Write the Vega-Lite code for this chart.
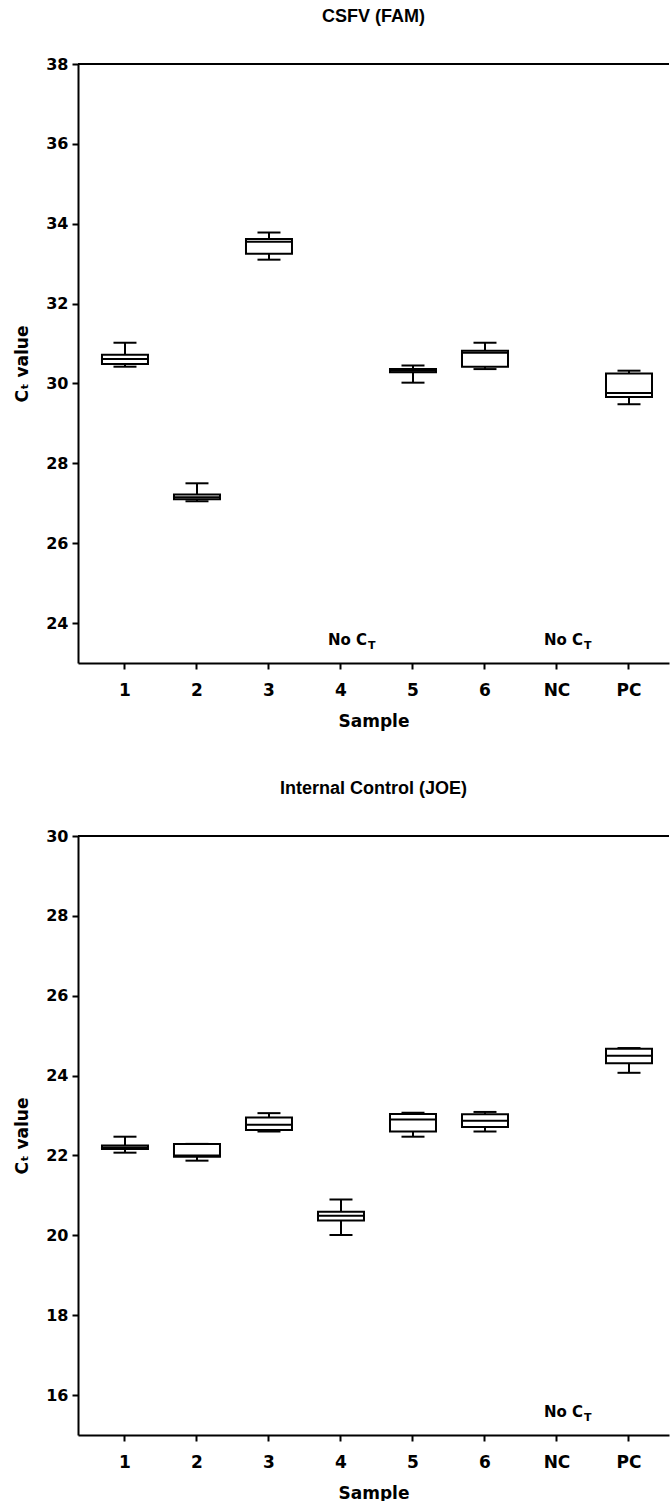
{
  "$schema": "https://vega.github.io/schema/vega-lite/v6.json",
  "padding": {"left": 13, "top": 8, "right": 0, "bottom": 0},
  "background": "white",
  "spacing": 51,
  "datasets": {
    "fam": [
      {"Sample": "1", "min": 30.42, "q1": 30.49, "median": 30.61, "q3": 30.72, "max": 31.02},
      {"Sample": "2", "min": 27.05, "q1": 27.1, "median": 27.15, "q3": 27.22, "max": 27.5},
      {"Sample": "3", "min": 33.1, "q1": 33.25, "median": 33.55, "q3": 33.62, "max": 33.78},
      {"Sample": "5", "min": 30.02, "q1": 30.28, "median": 30.32, "q3": 30.36, "max": 30.45},
      {"Sample": "6", "min": 30.36, "q1": 30.42, "median": 30.77, "q3": 30.82, "max": 31.02},
      {"Sample": "PC", "min": 29.48, "q1": 29.66, "median": 29.76, "q3": 30.25, "max": 30.32}
    ],
    "joe": [
      {"Sample": "1", "min": 22.07, "q1": 22.16, "median": 22.2, "q3": 22.25, "max": 22.47},
      {"Sample": "2", "min": 21.87, "q1": 21.97, "median": 22.0, "q3": 22.29, "max": 22.29},
      {"Sample": "3", "min": 22.6, "q1": 22.64, "median": 22.77, "q3": 22.95, "max": 23.06},
      {"Sample": "4", "min": 20.01, "q1": 20.37, "median": 20.49, "q3": 20.59, "max": 20.9},
      {"Sample": "5", "min": 22.47, "q1": 22.6, "median": 22.9, "q3": 23.04, "max": 23.07},
      {"Sample": "6", "min": 22.6, "q1": 22.71, "median": 22.87, "q3": 23.03, "max": 23.09},
      {"Sample": "PC", "min": 24.07, "q1": 24.31, "median": 24.5, "q3": 24.67, "max": 24.69}
    ],
    "famNotes": [{"Sample": "4", "note": "No C", "sub": "T"}, {"Sample": "NC", "note": "No C", "sub": "T"}],
    "joeNotes": [{"Sample": "NC", "note": "No C", "sub": "T"}]
  },
  "config": {
    "view": {"stroke": null},
    "axis": {
      "domainColor": "black", "domainWidth": 2, "tickColor": "black", "tickWidth": 2, "tickSize": 6,
      "labelColor": "black", "labelFont": "DejaVu Sans", "labelFontWeight": "bold", "labelFontSize": 16,
      "titleColor": "black", "titleFont": "DejaVu Sans", "titleFontWeight": "bold", "titleFontSize": 17,
      "grid": false
    },
    "title": {"font": "Liberation Sans", "fontWeight": "bold", "fontSize": 18, "color": "black", "anchor": "middle", "offset": 30}
  },
  "vconcat": [
    {
      "width": 591, "height": 599,
      "title": "CSFV (FAM)",
      "data": {"name": "fam"},
      "layer": [
        {
          "mark": {"type": "rule", "color": "black", "strokeWidth": 2},
          "encoding": {
            "x": {"field": "Sample", "type": "nominal", "title": "Sample",
                  "scale": {"domain": ["1", "2", "3", "4", "5", "6", "NC", "PC"], "paddingInner": 0, "paddingOuter": 0.104, "align": 0.733},
                  "axis": {"labelAngle": 0, "labelPadding": 13, "titlePadding": 15, "labelFontSize": 17}},
            "y": {"field": "min", "type": "quantitative", "title": "Cₜ value",
                  "scale": {"domain": [23, 38], "nice": false, "zero": false},
                  "axis": {"values": [24, 26, 28, 30, 32, 34, 36, 38], "labelPadding": 4, "titlePadding": 14}},
            "y2": {"field": "max"}
          }
        },
        {
          "mark": {"type": "bar", "fill": "white", "stroke": "black", "strokeWidth": 2, "size": 46},
          "encoding": {
            "x": {"field": "Sample", "type": "nominal", "title": "Sample"},
            "y": {"field": "q1", "type": "quantitative", "title": "Cₜ value"},
            "y2": {"field": "q3"}
          }
        },
        {
          "mark": {"type": "tick", "color": "black", "size": 46, "thickness": 2, "opacity": 1},
          "encoding": {
            "x": {"field": "Sample", "type": "nominal", "title": "Sample"},
            "y": {"field": "median", "type": "quantitative", "title": "Cₜ value"}
          }
        },
        {
          "mark": {"type": "tick", "color": "black", "size": 23, "thickness": 2, "opacity": 1},
          "encoding": {
            "x": {"field": "Sample", "type": "nominal", "title": "Sample"},
            "y": {"field": "min", "type": "quantitative", "title": "Cₜ value"}
          }
        },
        {
          "mark": {"type": "tick", "color": "black", "size": 23, "thickness": 2, "opacity": 1},
          "encoding": {
            "x": {"field": "Sample", "type": "nominal", "title": "Sample"},
            "y": {"field": "max", "type": "quantitative", "title": "Cₜ value"}
          }
        },
        {
          "mark": {"type": "rule", "color": "black", "strokeWidth": 1.5},
          "encoding": {"y": {"datum": 38}}
        },
        {
          "data": {"name": "famNotes"},
          "mark": {"type": "text", "align": "right", "baseline": "alphabetic", "dx": 26, "font": "DejaVu Sans", "fontWeight": "bold", "fontSize": 15, "color": "black"},
          "encoding": {
            "x": {"field": "Sample", "type": "nominal", "title": "Sample"},
            "y": {"datum": 23.44},
            "text": {"field": "note"}
          }
        },
        {
          "data": {"name": "famNotes"},
          "mark": {"type": "text", "align": "left", "baseline": "alphabetic", "dx": 27, "dy": 4, "font": "DejaVu Sans", "fontWeight": "bold", "fontSize": 11, "color": "black"},
          "encoding": {
            "x": {"field": "Sample", "type": "nominal", "title": "Sample"},
            "y": {"datum": 23.44},
            "text": {"field": "sub"}
          }
        }
      ]
    },
    {
      "width": 591, "height": 599,
      "title": "Internal Control (JOE)",
      "data": {"name": "joe"},
      "layer": [
        {
          "mark": {"type": "rule", "color": "black", "strokeWidth": 2},
          "encoding": {
            "x": {"field": "Sample", "type": "nominal", "title": "Sample",
                  "scale": {"domain": ["1", "2", "3", "4", "5", "6", "NC", "PC"], "paddingInner": 0, "paddingOuter": 0.104, "align": 0.733},
                  "axis": {"labelAngle": 0, "labelPadding": 13, "titlePadding": 15, "labelFontSize": 17}},
            "y": {"field": "min", "type": "quantitative", "title": "Cₜ value",
                  "scale": {"domain": [15, 30], "nice": false, "zero": false},
                  "axis": {"values": [16, 18, 20, 22, 24, 26, 28, 30], "labelPadding": 4, "titlePadding": 14}},
            "y2": {"field": "max"}
          }
        },
        {
          "mark": {"type": "bar", "fill": "white", "stroke": "black", "strokeWidth": 2, "size": 46},
          "encoding": {
            "x": {"field": "Sample", "type": "nominal", "title": "Sample"},
            "y": {"field": "q1", "type": "quantitative", "title": "Cₜ value"},
            "y2": {"field": "q3"}
          }
        },
        {
          "mark": {"type": "tick", "color": "black", "size": 46, "thickness": 2, "opacity": 1},
          "encoding": {
            "x": {"field": "Sample", "type": "nominal", "title": "Sample"},
            "y": {"field": "median", "type": "quantitative", "title": "Cₜ value"}
          }
        },
        {
          "mark": {"type": "tick", "color": "black", "size": 23, "thickness": 2, "opacity": 1},
          "encoding": {
            "x": {"field": "Sample", "type": "nominal", "title": "Sample"},
            "y": {"field": "min", "type": "quantitative", "title": "Cₜ value"}
          }
        },
        {
          "mark": {"type": "tick", "color": "black", "size": 23, "thickness": 2, "opacity": 1},
          "encoding": {
            "x": {"field": "Sample", "type": "nominal", "title": "Sample"},
            "y": {"field": "max", "type": "quantitative", "title": "Cₜ value"}
          }
        },
        {
          "mark": {"type": "rule", "color": "black", "strokeWidth": 1.5},
          "encoding": {"y": {"datum": 30}}
        },
        {
          "data": {"name": "joeNotes"},
          "mark": {"type": "text", "align": "right", "baseline": "alphabetic", "dx": 26, "font": "DejaVu Sans", "fontWeight": "bold", "fontSize": 15, "color": "black"},
          "encoding": {
            "x": {"field": "Sample", "type": "nominal", "title": "Sample"},
            "y": {"datum": 15.45},
            "text": {"field": "note"}
          }
        },
        {
          "data": {"name": "joeNotes"},
          "mark": {"type": "text", "align": "left", "baseline": "alphabetic", "dx": 27, "dy": 4, "font": "DejaVu Sans", "fontWeight": "bold", "fontSize": 11, "color": "black"},
          "encoding": {
            "x": {"field": "Sample", "type": "nominal", "title": "Sample"},
            "y": {"datum": 15.45},
            "text": {"field": "sub"}
          }
        }
      ]
    }
  ]
}
